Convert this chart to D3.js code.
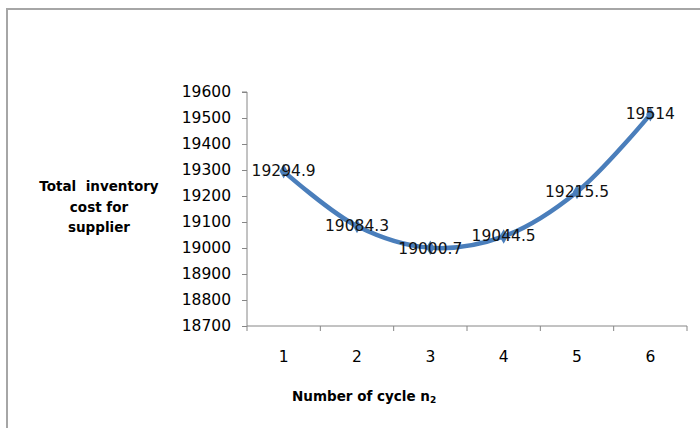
<!DOCTYPE html>
<html>
<head>
<meta charset="utf-8">
<script src="https://cdn.jsdelivr.net/npm/d3@7"></script>
<style>
  html, body { margin: 0; padding: 0; background: #fff; }
  svg { display: block; }
</style>
</head>
<body>
<svg id="chart" width="700" height="428"></svg>
<script>
const categories = [1, 2, 3, 4, 5, 6];
const costValues = [19294.9, 19084.3, 19000.7, 19044.5, 19215.5, 19514];
const costLabels = ["19294.9", "19084.3", "19000.7", "19044.5", "19215.5", "19514"];
const yTicks = [18700, 18800, 18900, 19000, 19100, 19200, 19300, 19400, 19500, 19600];
const yTitleLines = ["Total  inventory", "cost for", "supplier"];

const svg = d3.select("#chart");
const W = 700, H = 428;
const plot = { left: 247, right: 687, top: 92, bottom: 326 };

// outer frame (top and left edges visible)
svg.append("path")
  .attr("d", `M7,${H} L7,9 L${W},9`)
  .attr("fill", "none")
  .attr("stroke", "#a6a6a6")
  .attr("stroke-width", 2);

const x = d3.scaleBand().domain(categories).range([plot.left, plot.right]).padding(0);
const y = d3.scaleLinear().domain([18700, 19600]).range([plot.bottom, plot.top]);

const font = "'DejaVu Sans', sans-serif";

// Y axis
const yAxis = svg.append("g")
  .attr("transform", `translate(${plot.left},0)`)
  .call(d3.axisLeft(y).tickValues(yTicks).tickFormat(d3.format("d")).tickSize(5).tickPadding(11));
yAxis.select(".domain").attr("stroke", "#868686").attr("d", `M-5,${plot.top}H0V${plot.bottom}`);
yAxis.selectAll(".tick line").attr("stroke", "#868686");
yAxis.selectAll(".tick text")
  .attr("font-family", font).attr("font-size", 15.5).attr("fill", "#000");

// X axis with ticks at band boundaries
const xAxisG = svg.append("g").attr("transform", `translate(0,${plot.bottom})`);
xAxisG.append("line")
  .attr("x1", plot.left).attr("x2", plot.right)
  .attr("stroke", "#868686");
const boundaries = categories.map(c => x(c)).concat([x(categories[categories.length - 1]) + x.bandwidth()]);
xAxisG.selectAll("line.tk").data(boundaries).enter().append("line")
  .attr("class", "tk")
  .attr("x1", d => d).attr("x2", d => d)
  .attr("y1", 0).attr("y2", 5)
  .attr("stroke", "#868686");
xAxisG.selectAll("text").data(categories).enter().append("text")
  .attr("x", d => x(d) + x.bandwidth() / 2)
  .attr("y", 31)
  .attr("text-anchor", "middle")
  .attr("dominant-baseline", "central")
  .attr("font-family", font).attr("font-size", 15.5)
  .attr("fill", "#000")
  .text(d => d);

// Y axis title
const yt = svg.append("text")
  .attr("font-family", font).attr("font-size", 13.5).attr("font-weight", "bold")
  .attr("text-anchor", "middle").attr("fill", "#000")
  .attr("xml:space", "preserve");
yTitleLines.forEach((t, i) => {
  yt.append("tspan").attr("x", 99).attr("y", 191 + i * 20.5).text(t);
});

// X axis title
const xt = svg.append("text")
  .attr("x", 292).attr("y", 401)
  .attr("font-family", font).attr("font-size", 13.5).attr("font-weight", "bold")
  .attr("fill", "#000");
xt.append("tspan").text("Number of cycle ");
xt.append("tspan").attr("font-size", 13.5).text("n");
xt.append("tspan").attr("font-size", 9).attr("dy", 2).text("2");

// line
const pts = categories.map((c, i) => [x(c) + x.bandwidth() / 2, y(costValues[i])]);
svg.append("path")
  .datum(pts)
  .attr("fill", "none")
  .attr("stroke", "#4a7ebb")
  .attr("stroke-width", 4.5)
  .attr("stroke-linejoin", "round")
  .attr("stroke-linecap", "round")
  .attr("d", d3.line().curve(d3.curveCatmullRom.alpha(0.5)));

// markers (diamonds)
svg.selectAll("path.mk").data(pts).enter().append("path")
  .attr("class", "mk")
  .attr("transform", d => `translate(${d[0]},${d[1]})`)
  .attr("d", d3.symbol().type(d3.symbolDiamond).size(60))
  .attr("fill", "#4a7ebb");

// data labels
svg.selectAll("text.lbl").data(pts).enter().append("text")
  .attr("class", "lbl")
  .attr("x", d => d[0])
  .attr("y", (d, i) => d[1] + (i === 2 ? 1.5 : 0))
  .attr("text-anchor", "middle")
  .attr("dominant-baseline", "central")
  .attr("font-family", font).attr("font-size", 15.5)
  .attr("fill", "#111")
  .text((d, i) => costLabels[i]);
</script>
</body>
</html>
